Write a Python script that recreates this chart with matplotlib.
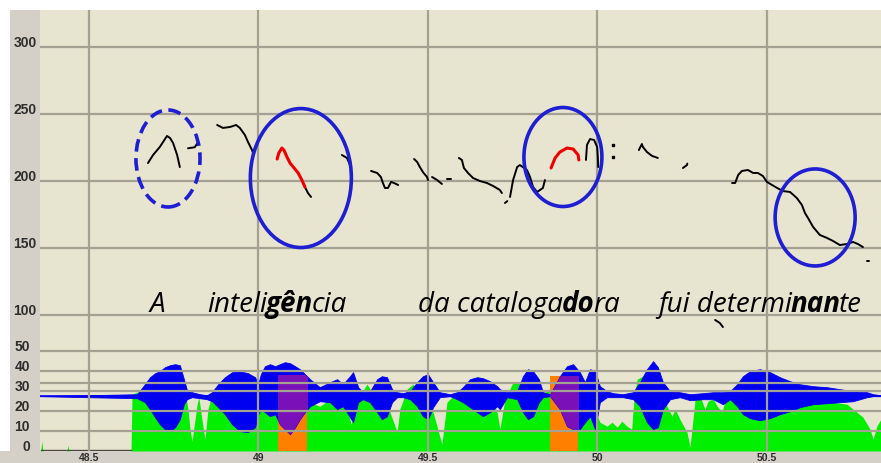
import matplotlib
matplotlib.use('Agg')
import matplotlib.pyplot as plt
from matplotlib import font_manager
from matplotlib.patches import Ellipse, Rectangle

# ---- F0 contour pieces: time (s), pitch (Hz) ----
f0_black = [
    ([48.674, 48.689, 48.709, 48.730, 48.739, 48.748, 48.760, 48.768],
     [213.4, 219.4, 225.4, 233.6, 232.1, 228.4, 219.4, 210.4]),
    ([48.792, 48.812, 48.822], [224.4, 225.2, 229.0]),
    ([48.878, 48.895, 48.916, 48.934, 48.945, 48.960, 48.969, 48.981, 48.984],
     [241.8, 239.6, 240.3, 241.8, 239.6, 234.3, 229.1, 223.1, 220.9]),
    ([49.137, 49.146, 49.155], [195.5, 191.0, 188.1]),
    ([49.246, 49.261, 49.270], [219.4, 217.2, 211.9]),
    ([49.332, 49.350, 49.361, 49.367, 49.373, 49.382, 49.391, 49.400, 49.412],
     [207.5, 206.0, 203.0, 198.5, 194.8, 194.8, 199.3, 198.5, 197.0]),
    ([49.459, 49.468, 49.476, 49.485, 49.497, 49.500],
     [216.4, 214.2, 210.4, 206.7, 203.0, 200.7]),
    ([49.512, 49.527, 49.541], [203.0, 200.7, 197.8]),
    ([49.556, 49.568], [201.5, 201.5]),
    ([49.591, 49.600, 49.606, 49.618, 49.633, 49.653, 49.674, 49.692, 49.712, 49.718],
     [217.2, 215.7, 209.7, 206.0, 202.2, 200.0, 198.5, 196.3, 193.3, 191.0]),
    ([49.727, 49.734], [183.6, 185.0]),
    ([49.742, 49.751, 49.763, 49.771, 49.792, 49.801, 49.810, 49.822, 49.839, 49.845],
     [188.1, 200.7, 210.4, 211.9, 208.2, 203.0, 195.5, 191.8, 194.8, 200.7]),
    ([49.966, 49.969, 49.978, 49.990, 49.999, 50.001, 50.002],
     [215.7, 226.9, 231.3, 230.6, 225.4, 217.9, 210.4]),
    ([50.122, 50.131, 50.134, 50.146, 50.161, 50.178],
     [223.1, 227.6, 225.4, 221.6, 218.7, 217.2]),
    ([50.252, 50.264, 50.265], [209.7, 211.9, 213.0]),
    ([50.347, 50.361, 50.370], [96.3, 94.0, 91.0]),
    ([50.397, 50.406, 50.415, 50.426, 50.444, 50.459, 50.473, 50.488, 50.500, 50.515,
      50.530, 50.547, 50.568, 50.588, 50.603, 50.612, 50.621, 50.636, 50.656, 50.677,
      50.695, 50.715, 50.736, 50.754, 50.768, 50.783],
     [198.5, 198.5, 204.5, 207.5, 208.2, 206.0, 206.0, 203.7, 199.3, 197.0,
      194.8, 192.5, 191.8, 187.3, 182.1, 176.1, 172.4, 165.7, 159.7, 157.5,
      155.2, 152.2, 153.0, 154.5, 153.0, 150.7]),
    ([50.795, 50.801], [140.3, 140.3]),
]
f0_red = [
    ([49.055, 49.060, 49.069, 49.075, 49.084, 49.093, 49.105, 49.117, 49.128, 49.137],
     [216.4, 220.9, 224.6, 223.1, 217.9, 213.4, 209.7, 206.0, 200.7, 195.5]),
    ([49.863, 49.875, 49.889, 49.910, 49.928, 49.943, 49.945],
     [209.7, 217.2, 221.6, 224.6, 223.9, 219.4, 215.7]),
]
dot_t = [50.047, 50.047]
dot_hz = [226.9, 218.0]

# ---- intensity curve (dB) ----
int_t = [48.355, 48.358, 48.361, 48.364, 48.435, 48.438, 48.441, 48.624, 48.627,
         48.650, 48.665, 48.695, 48.724, 48.754, 48.774, 48.783, 48.792, 48.798,
         48.804, 48.813, 48.819, 48.824, 48.833, 48.842, 48.851, 48.863, 48.881,
         48.901, 48.931, 48.960, 48.990, 49.004, 49.019, 49.034, 49.058, 49.093,
         49.122, 49.146, 49.181, 49.211, 49.232, 49.249, 49.273, 49.291, 49.305,
         49.320, 49.335, 49.350, 49.367, 49.388, 49.409, 49.417, 49.438, 49.456,
         49.476, 49.499, 49.515, 49.541, 49.556, 49.574, 49.594, 49.615, 49.645,
         49.674, 49.704, 49.712, 49.727, 49.751, 49.780, 49.801, 49.822, 49.839,
         49.860, 49.942, 49.963, 49.993, 50.007, 50.028, 50.043, 50.058, 50.072,
         50.087, 50.101, 50.108, 50.117, 50.134, 50.155, 50.184, 50.205, 50.220,
         50.229, 50.243, 50.264, 50.273, 50.288, 50.302, 50.317, 50.326, 50.341,
         50.353, 50.367, 50.382, 50.400, 50.412, 50.429, 50.459, 50.500, 50.538,
         50.577, 50.618, 50.656, 50.695, 50.736, 50.765, 50.783, 50.804, 50.813,
         50.824, 50.836]
int_db = [0, 0, 5.0, 0, 0, 2.9, 0, 0, 28.4,
          29.9, 31.9, 34.4, 36.9, 36.9, 33.4, 29.9, 20.9, 10.9,
          4.9, 15.9, 23.4, 26.9, 15.9, 5.9, 20.9, 28.4, 31.9,
          34.9, 37.4, 38.4, 36.9, 31.9, 28.4, 28.4, 30.9, 31.0,
          30.0, 24.4, 22.4, 25.9, 32.4, 30.9, 13.4, 22.4, 29.4,
          33.4, 29.4, 32.4, 29.4, 19.4, 9.4, 20.9, 30.9, 33.4,
          29.4, 27.4, 19.4, 3.4, 24.4, 27.4, 29.9, 31.9, 31.9,
          30.9, 19.4, 10.9, 25.9, 34.4, 34.9, 33.4, 30.9, 29.4,
          30.0, 34.0, 33.0, 20.0, 14.4, 12.4, 14.4, 11.9, 14.9,
          12.4, 10.9, 27.4, 35.9, 37.4, 35.9, 32.4, 22.4, 17.4,
          20.9, 15.9, 9.4, 1.9, 25.9, 27.4, 20.9, 24.9, 25.9,
          22.4, 19.4, 28.4, 30.9, 32.4, 35.9, 37.4, 35.9, 30.9,
          24.9, 23.4, 23.9, 24.4, 23.4, 19.4, 16.9, 10.9, 5.9,
          12.4, 15.9]

# ---- waveform envelope around its zero line (plotted on the dB scale) ----
wave_zero = 27.4
wave_t = [48.355, 48.642, 48.665, 48.680, 48.695, 48.709, 48.724, 48.739, 48.754,
          48.768, 48.780, 48.789, 48.804, 48.827, 48.848, 48.863, 48.881, 48.901,
          48.922, 48.945, 48.969, 48.990, 48.999, 49.007, 49.019, 49.034, 49.049,
          49.063, 49.078, 49.093, 49.108, 49.122, 49.137, 49.152, 49.181, 49.211,
          49.232, 49.249, 49.270, 49.279, 49.294, 49.308, 49.329, 49.350, 49.364,
          49.379, 49.394, 49.409, 49.426, 49.447, 49.468, 49.485, 49.500, 49.515,
          49.535, 49.565, 49.586, 49.603, 49.624, 49.645, 49.662, 49.683, 49.704,
          49.712, 49.733, 49.763, 49.780, 49.795, 49.810, 49.827, 49.839, 49.860,
          49.889, 49.910, 49.928, 49.948, 49.963, 49.978, 49.993, 50.007, 50.028,
          50.046, 50.075, 50.105, 50.125, 50.146, 50.164, 50.178, 50.193, 50.214,
          50.243, 50.273, 50.311, 50.341, 50.370, 50.391, 50.412, 50.429, 50.450,
          50.479, 50.509, 50.538, 50.568, 50.597, 50.636, 50.677, 50.715, 50.754,
          50.795, 50.813, 50.836]
wave_up = [27.4, 28.4, 33.4, 36.9, 38.9, 39.9, 41.9, 42.9, 43.4,
           42.9, 35.9, 30.4, 29.4, 28.4, 27.9, 29.4, 33.4, 36.9,
           39.4, 39.9, 38.9, 36.9, 33.4, 38.4, 42.4, 43.4, 42.4,
           43.4, 44.4, 43.9, 42.4, 40.9, 38.4, 35.9, 31.9, 34.4,
           35.9, 33.4, 37.4, 39.4, 31.9, 29.4, 29.9, 35.9, 37.4,
           36.9, 30.9, 29.4, 28.9, 29.9, 34.4, 37.4, 38.4, 34.4,
           29.4, 28.4, 29.4, 31.9, 35.9, 36.9, 36.4, 34.9, 32.4,
           30.9, 29.4, 29.9, 37.4, 40.9, 39.9, 35.9, 29.4, 28.4,
           37.4, 42.4, 43.4, 39.4, 34.4, 40.9, 39.9, 32.4, 29.9,
           28.9, 28.4, 29.4, 34.4, 40.9, 44.9, 41.9, 34.4, 29.9,
           29.4, 28.4, 28.9, 29.4, 29.4, 29.9, 33.4, 37.4, 39.9,
           40.9, 39.4, 36.9, 34.9, 33.4, 32.4, 31.9, 30.9, 29.9,
           29.4, 28.4, 27.9]
wave_lo = [27.4, 26.4, 24.4, 20.9, 16.9, 13.4, 10.9, 9.9, 11.9,
           15.9, 23.4, 25.9, 26.9, 26.4, 25.9, 24.9, 21.9, 18.4,
           13.4, 9.9, 9.4, 11.9, 18.4, 20.9, 19.4, 17.4, 18.4,
           13.4, 10.9, 8.4, 11.9, 15.9, 19.4, 22.4, 24.9, 24.4,
           20.9, 22.4, 16.9, 14.4, 24.4, 25.9, 24.4, 19.4, 15.9,
           17.4, 24.4, 26.9, 26.9, 25.9, 22.4, 17.4, 15.9, 21.9,
           26.9, 27.4, 25.9, 24.4, 21.9, 19.4, 17.4, 19.4, 22.4,
           20.9, 26.9, 25.9, 19.4, 15.9, 17.4, 24.4, 26.9, 27.4,
           20.9, 12.4, 10.9, 10.9, 14.4, 17.4, 10.9, 24.4, 26.9,
           26.9, 26.9, 25.9, 22.4, 14.4, 10.9, 11.9, 20.9, 25.9,
           26.9, 25.4, 25.9, 25.9, 23.4, 25.9, 22.4, 18.4, 16.4,
           15.4, 16.4, 18.4, 19.9, 21.9, 23.4, 23.9, 24.4, 24.9,
           26.9, 27.4, 27.4]

# highlighted syllables: start, end (s) and bar top (dB)
hl_start = [49.058, 49.860]
hl_end = [49.143, 49.942]
hl_top = [38.0, 37.4]

# sentence, split into (text, stressed)
phrases = [
    (48.680, [('A', False)]),
    (48.848, [('inteli', False), ('gên', True), ('cia', False)]),
    (49.471, [('da cataloga', False), ('do', True), ('ra', False)]),
    (50.178, [('fui determi', False), ('nan', True), ('te', False)]),
]
text_hz = 102.0

hz_ticks = [100, 150, 200, 250, 300]
db_ticks = [0, 10, 20, 30, 40, 50]
db_grid = [10, 20, 30, 34, 40, 50]
t_ticks = [48.5, 49, 49.5, 50, 50.5]
t_labels = ['48.5', '49', '49.5', '50', '50.5']

# circles drawn round the contour: centre t, centre Hz, width s, height Hz, dashed
rings = [
    (48.733, 216.8, 0.189, 72.4, True),
    (49.125, 202.2, 0.298, 103.7, False),
    (49.898, 217.9, 0.230, 73.9, False),
    (50.642, 172.8, 0.236, 72.4, False),
]

BG = '#e7e4d0'
GRID = '#a3a191'
PANEL = '#d4d0c8'
RING = '#1e1ed2'

fams = {f.name for f in font_manager.fontManager.ttflist}
narrow = 'Liberation Sans Narrow' if 'Liberation Sans Narrow' in fams else 'Liberation Sans'
word_font = 'Open Sans' if 'Open Sans' in fams else 'DejaVu Sans'

W, H = 881, 463
fig = plt.figure(figsize=(W / 100, H / 100), dpi=100)
fig.patch.set_facecolor(PANEL)


def box(x0, y0, x1, y1):
    return [x0 / W, 1 - y1 / H, (x1 - x0) / W, (y1 - y0) / H]


ax1 = fig.add_axes(box(40, 10, 881, 340))
ax2 = fig.add_axes(box(40, 340, 881, 451))
fig.add_artist(Rectangle((0, 1 - 10 / H), 1, 10 / H, transform=fig.transFigure,
                         color='white', lw=0))
fig.add_artist(Rectangle((0, 12 / H), 10 / W, 1 - 12 / H, transform=fig.transFigure,
                         color='white', lw=0))

for ax in (ax1, ax2):
    ax.set_facecolor(BG)
    ax.set_xlim(48.3555, 50.8363)
    for s in ax.spines.values():
        s.set_visible(False)
    ax.set_xticks([])
    ax.set_yticks([])

ax1.set_ylim(81.34, 327.61)
ax2.set_ylim(0, 55.5)

# grid
for t in t_ticks:
    ax1.axvline(t, color=GRID, lw=1.6, zorder=0.5)
    ax2.axvline(t, color=GRID, lw=1.6, zorder=6)
for hz in hz_ticks:
    ax1.axhline(hz, color=GRID, lw=1.6, zorder=0.5)
for db in db_grid:
    ax2.axhline(db, color=GRID, lw=1.6, zorder=6)

# pitch contour
for t, hz in f0_black:
    ax1.plot(t, hz, color='black', lw=1.4, solid_capstyle='round', zorder=3)
for t, hz in f0_red:
    ax1.plot(t, hz, color='#ee0000', lw=2.2, solid_capstyle='round', zorder=3)
ax1.plot(dot_t, dot_hz, 's', color='black', ms=1.8, zorder=3)

for tc, hc, w, h, dashed in rings:
    ax1.add_patch(Ellipse((tc, hc), w, h, fill=False, ec=RING, lw=2.6,
                          ls=(0, (3.5, 1.8)) if dashed else '-', zorder=4))

# sentence with stressed syllables in bold: lay the pieces out one after another
# on a common baseline, measuring each piece in pixels
renderer = fig.canvas.get_renderer()
to_data = ax1.transData.inverted()
for t0, parts in phrases:
    xpix = ax1.transData.transform((t0, text_hz))[0]
    for s, strong in parts:
        tx = ax1.text(to_data.transform((xpix, 0))[0], text_hz, s, ha='left',
                      va='baseline', fontsize=20, style='italic', family=word_font,
                      fontweight='bold' if strong else 'normal', color='black',
                      zorder=5)
        xpix += tx.get_window_extent(renderer).width - 1.5

# intensity, highlights, waveform
ax2.fill_between(int_t, 0, int_db, color='#00f000', lw=0, zorder=1)
ax2.plot([48.358, 48.624], [0.4, 0.4], color='#4a4a40', lw=1.0, zorder=1.5)
spans = []
for a, b, top in zip(hl_start, hl_end, hl_top):
    r = Rectangle((a, 0), b - a, top, color='#ff8000', lw=0, zorder=2)
    ax2.add_patch(r)
    spans.append(r)
ax2.axhline(wave_zero, color='#0000ff', lw=1.2, zorder=3)
ax2.fill_between(wave_t, wave_lo, wave_up, color='#0000f0', lw=0.6, ec='#0000f0', zorder=3)
for r in spans:
    p = ax2.fill_between(wave_t, wave_lo, wave_up, color='#7a10b8', lw=0, zorder=3.5)
    p.set_clip_path(r)

# axis labels
for hz in hz_ticks:
    ax1.text(-0.004, hz + 3, str(hz), transform=ax1.get_yaxis_transform(),
             ha='right', va='center', fontsize=10, fontweight='bold',
             family='Liberation Sans', color='#2e2e2e', clip_on=False)
for db in db_ticks:
    ax2.text(-0.012, db + 2, str(db), transform=ax2.get_yaxis_transform(),
             ha='right', va='center', fontsize=10, fontweight='bold',
             family='Liberation Sans', color='#2e2e2e', clip_on=False)
for t, lab in zip(t_ticks, t_labels):
    ax2.text(t, -0.02, lab, transform=ax2.get_xaxis_transform(), ha='center',
             va='top', fontsize=7.5, fontweight='bold', family=narrow,
             color='#2e2e2e', clip_on=False)

fig.savefig('out.png', dpi=100, facecolor=fig.get_facecolor())
